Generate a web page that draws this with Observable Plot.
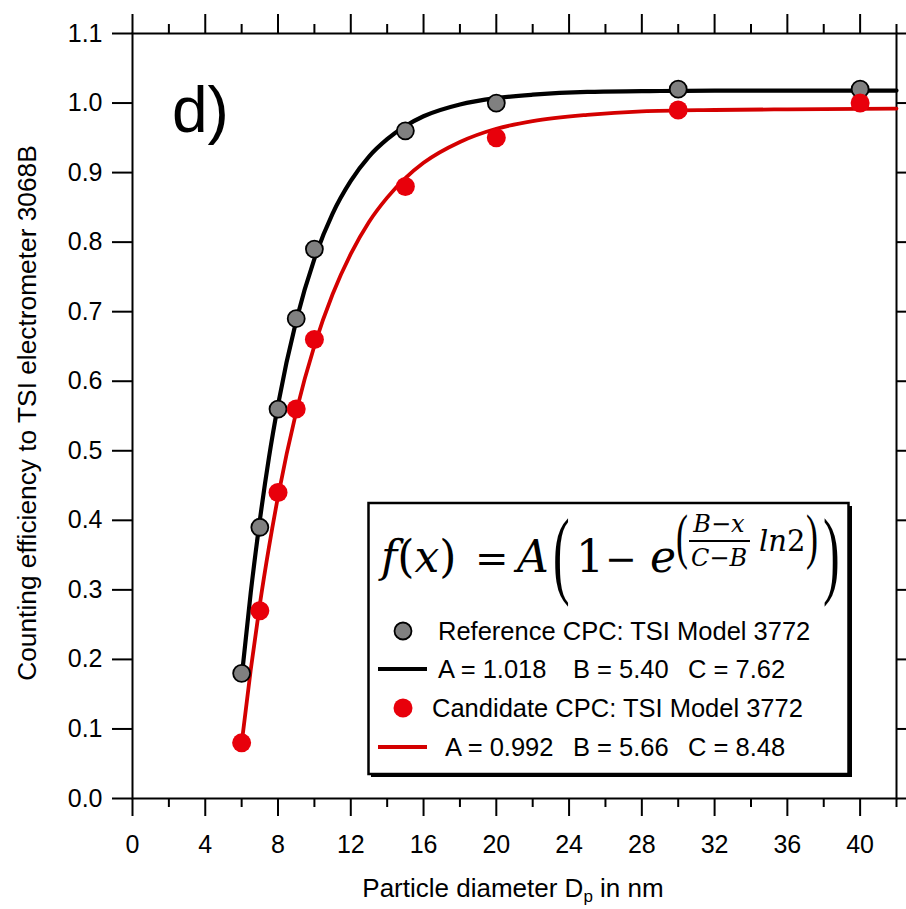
<!DOCTYPE html>
<html>
<head>
<meta charset="utf-8">
<script src="https://cdn.jsdelivr.net/npm/d3@7"></script>
<script src="https://cdn.jsdelivr.net/npm/@observablehq/plot@0.6"></script>
<style>
  html, body { margin: 0; padding: 0; background: white; }
  #chart svg { display: block; }
</style>
</head>
<body>
<div id="chart"></div>
<script>
// ---- data ----
const diameters = [6, 7, 8, 9, 10, 15, 20, 30, 40];
const refEff = [0.18, 0.39, 0.56, 0.69, 0.79, 0.96, 1.00, 1.02, 1.02];
const candEff = [0.08, 0.27, 0.44, 0.56, 0.66, 0.88, 0.95, 0.99, 1.00];

// fitted curves
const fitX = [6, 6.5, 7, 7.5, 8, 9, 10, 11, 12, 13, 14, 15, 16, 18, 20, 22, 25, 28, 32, 36, 42];
const refFit = [0.174, 0.296, 0.400, 0.490, 0.566, 0.687, 0.776, 0.841, 0.888, 0.923, 0.948, 0.967, 0.981, 0.998, 1.007, 1.012, 1.016, 1.017, 1.018, 1.018, 1.018];
const candFit = [0.079, 0.185, 0.279, 0.361, 0.434, 0.556, 0.651, 0.725, 0.783, 0.829, 0.864, 0.892, 0.914, 0.944, 0.963, 0.974, 0.983, 0.988, 0.990, 0.991, 0.992];

const xMajorTicks = [0, 4, 8, 12, 16, 20, 24, 28, 32, 36, 40];
const xMinorTicks = [2, 6, 10, 14, 18, 22, 26, 30, 34, 38, 42];
const yTicks = [0, 0.1, 0.2, 0.3, 0.4, 0.5, 0.6, 0.7, 0.8, 0.9, 1.0, 1.1];

const seriesNames = ["Reference CPC: TSI Model 3772", "Candidate CPC: TSI Model 3772"];
const paramA = ["1.018", "0.992"];
const paramB = ["5.40", "5.66"];
const paramC = ["7.62", "8.48"];

const panelLabel = "d)";
const xLabel = ["Particle diameter D", "p", " in nm"];
const yLabel = "Counting efficiency to TSI electrometer 3068B";

// ---- tables ----
const refPts = diameters.map((d, i) => ({x: d, y: refEff[i]}));
const candPts = diameters.map((d, i) => ({x: d, y: candEff[i]}));
const refCurve = fitX.map((d, i) => ({x: d, y: refFit[i]}));
const candCurve = fitX.map((d, i) => ({x: d, y: candFit[i]}));

const FONT = "'Liberation Sans', Arial, Helvetica, sans-serif";
const SERIF = "'DejaVu Serif', 'Liberation Serif', serif";
const PAREN = "'Liberation Serif', 'DejaVu Serif', serif";
const RED_LINE = "#d40000";
const RED_DOT = "#e8000b";

const chart = Plot.plot({
  width: 906,
  height: 909,
  marginLeft: 132,
  marginRight: 10,
  marginTop: 33,
  marginBottom: 111,
  x: {domain: [0, 42]},
  y: {domain: [0, 1.1]},
  style: {fontFamily: FONT, fontSize: "25px", color: "black", background: "white"},
  marks: [
    Plot.axisX({anchor: "bottom", ticks: xMajorTicks, tickSize: 18, tickPadding: 19, strokeWidth: 2, fontSize: 25, label: null, tickFormat: d => String(d)}),
    Plot.axisX({anchor: "bottom", ticks: xMinorTicks, tickSize: 9, strokeWidth: 2, label: null, tickFormat: () => ""}),
    Plot.axisX({anchor: "top", ticks: xMajorTicks, tickSize: 20, strokeWidth: 2, label: null, tickFormat: () => ""}),
    Plot.axisX({anchor: "top", ticks: xMinorTicks, tickSize: 10, strokeWidth: 2, label: null, tickFormat: () => ""}),
    Plot.axisY({anchor: "left", ticks: yTicks, tickSize: 20, tickPadding: 10, strokeWidth: 2, fontSize: 25, label: null, tickFormat: d3.format(".1f")}),
    Plot.axisY({anchor: "right", ticks: yTicks, tickSize: 10, strokeWidth: 2, label: null, tickFormat: () => ""}),
    Plot.frame({stroke: "black", strokeWidth: 2}),
    Plot.line(refCurve, {x: "x", y: "y", stroke: "black", strokeWidth: 4.2, curve: "monotone-x"}),
    Plot.line(candCurve, {x: "x", y: "y", stroke: RED_LINE, strokeWidth: 3.8, curve: "monotone-x"}),
    Plot.dot(refPts, {x: "x", y: "y", r: 8.5, fill: "#808080", stroke: "black", strokeWidth: 1.8}),
    Plot.dot(candPts, {x: "x", y: "y", r: 9.5, fill: RED_DOT, stroke: "none"})
  ]
});

document.getElementById("chart").appendChild(chart);

// ---- annotations / legend (decoration) ----
const svg = d3.select(chart);

function txt(parent, x, y, s, o = {}) {
  const t = parent.append("text")
    .attr("x", x).attr("y", y)
    .attr("font-family", o.family || FONT)
    .attr("font-size", o.size || 25)
    .attr("fill", o.fill || "black")
    .attr("text-anchor", o.anchor || "start");
  if (o.italic) t.attr("font-style", "italic");
  if (o.transform) t.attr("transform", o.transform);
  if (s !== null) t.text(s);
  return t;
}

// panel label
txt(svg, 172, 132, panelLabel, {size: 64});

// axis labels
const xl = txt(svg, 513, 897, null, {size: 26, anchor: "middle"});
xl.append("tspan").text(xLabel[0]);
xl.append("tspan").attr("font-size", 17).attr("dy", 5).text(xLabel[1]);
xl.append("tspan").attr("dy", -5).text(xLabel[2]);

txt(svg, 0, 0, yLabel, {size: 26.3, anchor: "middle", transform: "translate(36,413) rotate(-90)"});

// legend box
const lg = svg.append("g");
lg.append("rect").attr("x", 371).attr("y", 506).attr("width", 481).attr("height", 271).attr("fill", "black");
lg.append("rect").attr("x", 368.5).attr("y", 503).attr("width", 480).attr("height", 271)
  .attr("fill", "white").attr("stroke", "black").attr("stroke-width", 2.5);

// formula f(x) = A(1 - e^((B-x)/(C-B) ln2))
const f1 = txt(lg, 381, 572, null, {family: SERIF, size: 44});
f1.append("tspan").attr("font-style", "italic").text("f");
f1.append("tspan").text("(");
f1.append("tspan").attr("font-style", "italic").text("x");
f1.append("tspan").text(")");
txt(lg, 475, 572, "=", {family: SERIF, size: 40});
txt(lg, 517, 572, "A", {family: SERIF, size: 44, italic: true});
txt(lg, 0, 0, "(", {family: PAREN, size: 50, transform: "translate(553,586) scale(1,1.95)"});
txt(lg, 576, 572, "1", {family: SERIF, size: 44});
txt(lg, 605, 572, "\u2212", {family: SERIF, size: 38});
txt(lg, 650, 572, "e", {family: SERIF, size: 44, italic: true});
txt(lg, 0, 0, "(", {family: PAREN, size: 36, transform: "translate(676,557) scale(1,1.7)"});
txt(lg, 719, 532, "B\u2212x", {family: SERIF, size: 24, italic: true, anchor: "middle"});
lg.append("line").attr("x1", 689).attr("x2", 750).attr("y1", 541).attr("y2", 541)
  .attr("stroke", "black").attr("stroke-width", 1.8);
txt(lg, 719, 566, "C\u2212B", {family: SERIF, size: 24, italic: true, anchor: "middle"});
const ln = txt(lg, 759, 551, null, {family: SERIF, size: 29});
ln.append("tspan").attr("font-style", "italic").text("ln");
ln.append("tspan").text("2");
txt(lg, 0, 0, ")", {family: PAREN, size: 36, transform: "translate(806,557) scale(1,1.7)"});
txt(lg, 0, 0, ")", {family: PAREN, size: 50, transform: "translate(823,586) scale(1,1.95)"});

// legend entries
const rowY = [631, 708];
const lineY = [669, 747];
const textX = [438, 432];
const paramX = [438, 445];
const dotStyle = [{fill: "#808080", stroke: "black", r: 8.5}, {fill: RED_DOT, stroke: "none", r: 9.5}];
const lineColor = ["black", RED_LINE];
const lineW = [4.2, 3.8];
seriesNames.forEach((name, i) => {
  lg.append("circle").attr("cx", 403).attr("cy", rowY[i]).attr("r", dotStyle[i].r)
    .attr("fill", dotStyle[i].fill).attr("stroke", dotStyle[i].stroke).attr("stroke-width", 1.8);
  txt(lg, textX[i], rowY[i] + 8.5, name, {size: 25.5});
  lg.append("line").attr("x1", 378).attr("x2", 427).attr("y1", lineY[i]).attr("y2", lineY[i])
    .attr("stroke", lineColor[i]).attr("stroke-width", lineW[i]);
  txt(lg, paramX[i], lineY[i] + 8.5, "A = " + paramA[i], {size: 25.5});
  txt(lg, 573, lineY[i] + 8.5, "B = " + paramB[i], {size: 25.5});
  txt(lg, 688, lineY[i] + 8.5, "C = " + paramC[i], {size: 25.5});
});
</script>
</body>
</html>
